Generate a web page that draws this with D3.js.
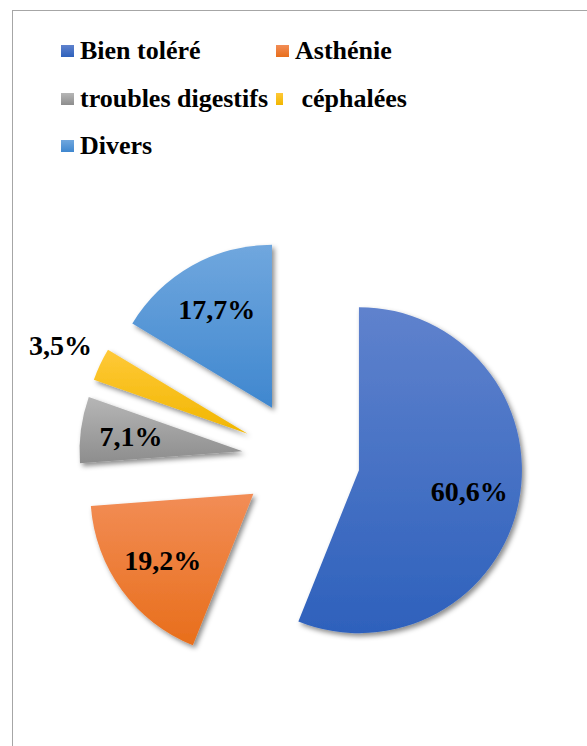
<!DOCTYPE html>
<html><head><meta charset="utf-8">
<script src="https://cdn.jsdelivr.net/npm/d3@7"></script>
<style>html,body{margin:0;padding:0;background:#fff;} svg{display:block;} text{font-family:"Liberation Serif","Times New Roman",serif;font-weight:bold;}</style>
</head><body>
<svg id="c" width="587" height="746"></svg>
<script>
const categories = ["Bien toléré", "Asthénie", "troubles digestifs", " céphalées", "Divers"];
const values = [60.6, 19.2, 7.1, 3.5, 17.7];
const valueLabels = ["60,6%", "19,2%", "7,1%", "3,5%", "17,7%"];
const colorTop = ["#5f82cd", "#f28d56", "#b6b6b6", "#ffc938", "#70a7de"];
const colorBottom = ["#2e61bc", "#e86e1b", "#8d8d8d", "#f1b600", "#3f87cf"];

const svg = d3.select("#c");
const defs = svg.append("defs");
categories.forEach((c, i) => {
  const g = defs.append("linearGradient").attr("id", "g" + i)
    .attr("x1", 0).attr("y1", 0).attr("x2", 0).attr("y2", 1);
  g.append("stop").attr("offset", "0%").attr("stop-color", colorTop[i]);
  g.append("stop").attr("offset", "100%").attr("stop-color", colorBottom[i]);
});
const f = defs.append("filter").attr("id", "sh").attr("x", "-20%").attr("y", "-20%").attr("width", "150%").attr("height", "150%");
f.append("feDropShadow").attr("dx", 2.5).attr("dy", 3).attr("stdDeviation", 2.5).attr("flood-color", "#000").attr("flood-opacity", 0.45);

// border
svg.append("rect").attr("x", 12.5).attr("y", 10.5).attr("width", 700).attr("height", 900)
  .attr("fill", "none").attr("stroke", "#a6a6a6").attr("stroke-width", 1);

// legend
const colX = [61, 276];
const rowY = [59, 107, 154];
const leg = svg.append("g");
categories.forEach((c, i) => {
  const col = i % 2, row = Math.floor(i / 2);
  const x = colX[col], y = rowY[row];
  const narrow = c.startsWith(" ");
  leg.append("rect").attr("x", x).attr("y", y - 14).attr("width", narrow ? 7 : 13).attr("height", 12)
    .attr("fill", "url(#g" + i + ")");
  leg.append("text").attr("x", x + 19).attr("y", y)
    .style("font-family", "'Liberation Serif','Times New Roman',serif").style("font-weight", "bold")
    .style("font-size", "26px").attr("fill", "#000").style("white-space", "pre").text(c);
});

// pie
const cx = 301, cy = 459, r = 163, explode = 59;
const pie = d3.pie().sort(null).value(d => d)(values);
const arc = d3.arc().innerRadius(0).outerRadius(r);
const g = svg.append("g").attr("transform", `translate(${cx},${cy})`);
const total = d3.sum(values);
pie.forEach((p, i) => {
  const mid = (p.startAngle + p.endAngle) / 2;
  const ox = explode * Math.sin(mid), oy = -explode * Math.cos(mid);
  g.append("path").attr("d", arc(p)).attr("transform", `translate(${ox},${oy})`)
    .attr("fill", "url(#g" + i + ")").attr("filter", "url(#sh)");
});
pie.forEach((p, i) => {
  const mid = (p.startAngle + p.endAngle) / 2;
  const ox = explode * Math.sin(mid), oy = -explode * Math.cos(mid);
  const inside = values[i] / total > 0.05;
  const lr = inside ? 0.69 * r : 1.27 * r;
  g.append("text")
    .attr("x", ox + lr * Math.sin(mid)).attr("y", oy - lr * Math.cos(mid))
    .attr("text-anchor", "middle").attr("dominant-baseline", "central")
    .style("font-family", "'Liberation Serif','Times New Roman',serif").style("font-weight", "bold")
    .style("font-size", "28px").attr("fill", "#000").text(valueLabels[i]);
});
</script>
</body></html>
